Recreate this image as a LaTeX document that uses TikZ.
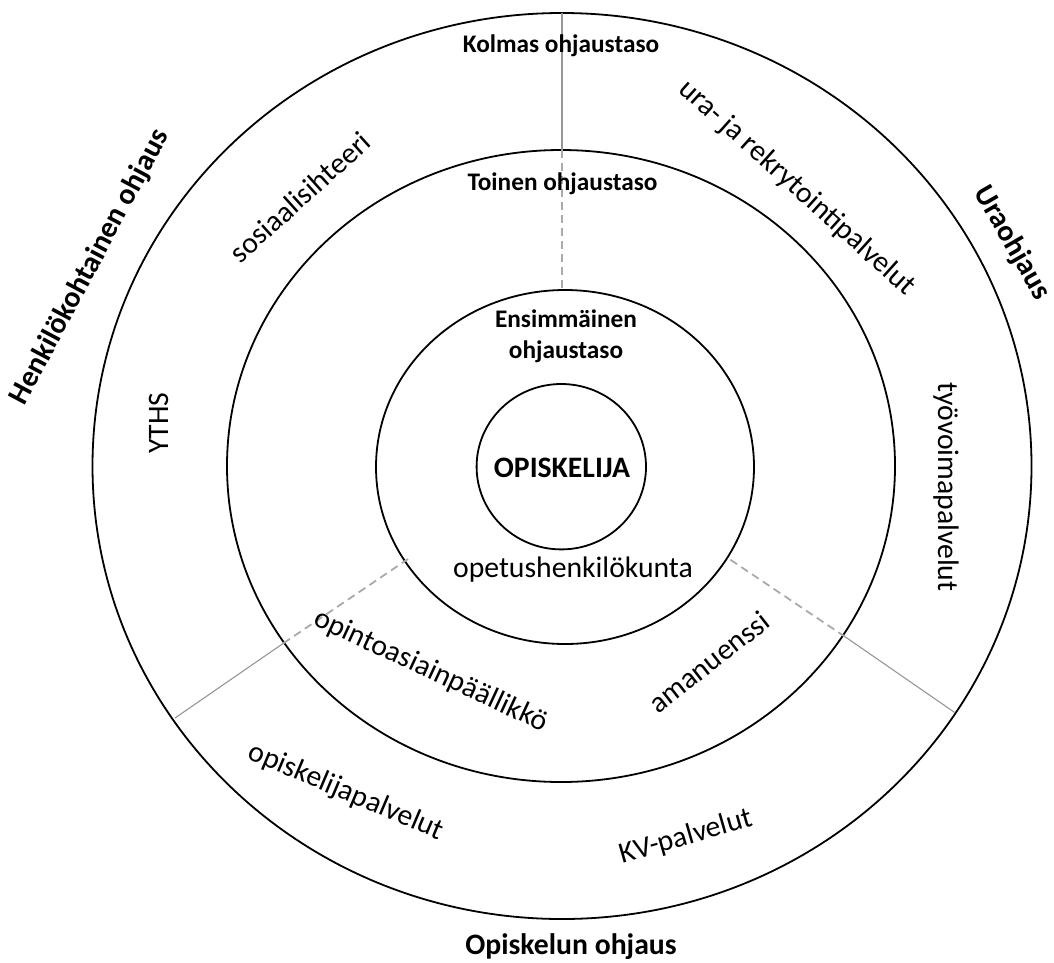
\documentclass[tikz,border=0pt]{standalone}
\usepackage{fontspec}
\setmainfont{Carlito}
\definecolor{sepgray}{RGB}{150,150,150}
\definecolor{dashgray}{RGB}{170,170,170}
\tikzset{
  ring/.style={draw=black, line width=1.8pt},
  sepline/.style={draw=sepgray, line width=1.1pt},
  sepdash/.style={draw=dashgray, line width=1.8pt, dash pattern=on 8pt off 5pt},
  lvl/.style={inner sep=0pt, font=\bfseries\fontsize{25.3}{30.6}\selectfont},
  big/.style={inner sep=0pt, font=\bfseries\fontsize{29.7}{34}\selectfont},
  txt/.style={inner sep=0pt, font=\fontsize{29.7}{34}\selectfont},
}
\begin{document}
\begin{tikzpicture}[x=1pt,y=-1pt]
\useasboundingbox (0,0) rectangle (1054,962);
% rings
\draw[ring] (562,466) ellipse [x radius=469.5pt, y radius=453pt];
\draw[ring] (561,466) ellipse [x radius=334pt, y radius=316pt];
\draw[ring] (565,467) ellipse [x radius=189pt, y radius=177pt];
\draw[ring] (561.3,466.7) ellipse [x radius=84.7pt, y radius=82.7pt];
% separator points
\coordinate (t1) at (562,12.7);
\coordinate (t2) at (562,150);
\coordinate (t3) at (562,290);
\coordinate (l3) at (408,559);
\coordinate (l2) at (283.3,643.3);
\coordinate (l1) at (175,718);
\coordinate (r3) at (728.3,558.3);
\coordinate (r2) at (845,636.7);
\coordinate (r1) at (955,712.7);
\draw[sepline] (t1) -- (t2);
\draw[sepdash] (t2) -- (t3);
\draw[sepline] (l1) -- (l2);
\draw[sepdash] (l2) -- (l3);
\draw[sepline] (r1) -- (r2);
\draw[sepdash] (r2) -- (r3);
% level labels
\node[lvl, anchor=base] (kolmas) at (561,52.3) {Kolmas ohjaustaso};
\node[lvl, anchor=base] (toinen) at (562.5,190.7) {Toinen ohjaustaso};
\node[lvl, align=center] (ensim) at (566,336) {Ensimmäinen\\ohjaustaso};
\node[big, anchor=base] (opisk) at (562,477.3) {OPISKELIJA};
\node[txt, anchor=base] (opet) at (573,577.3) {opetushenkilökunta};
% outer labels
\node[big, anchor=base] (opohj) at (571,954) {Opiskelun ohjaus};
\node[big, rotate=62] (henk) at (90,267) {Henkilökohtainen ohjaus};
\node[big, rotate=-60] (ura) at (1012,243) {Uraohjaus};
% service labels
\node[txt, rotate=42] (sos) at (300,197) {sosiaalisihteeri};
\node[txt, rotate=-42] (rekry) at (797,188) {ura- ja rekrytointipalvelut};
\node[txt, rotate=90] (yths) at (159,423) {YTHS};
\node[txt, rotate=-90] (tyov) at (946,487) {työvoimapalvelut};
\node[txt, rotate=-25] (opinto) at (431,671) {opintoasiainpäällikkö};
\node[txt, rotate=38] (aman) at (709,662) {amanuenssi};
\node[txt, rotate=-23] (oppalv) at (346,792) {opiskelijapalvelut};
\node[txt, rotate=16] (kv) at (686,837) {KV-palvelut};
\end{tikzpicture}
\end{document}
